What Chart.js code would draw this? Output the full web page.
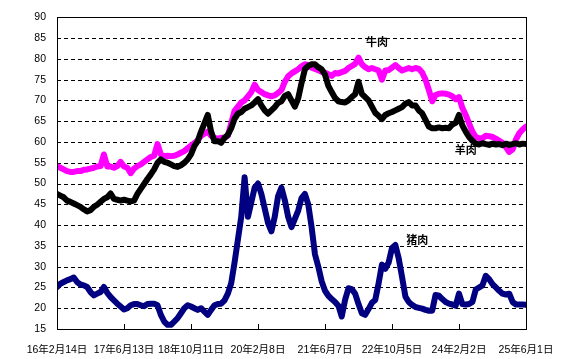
<!DOCTYPE html>
<html>
<head>
<meta charset="utf-8">
<script src="https://cdn.jsdelivr.net/npm/chart.js@4"></script>
<style>
  html, body { margin: 0; padding: 0; background: #fff; }
</style>
</head>
<body>
<canvas id="meat-chart" width="570" height="359"></canvas>
<script>
// ---------- Data ----------
// 한 눈금(485일)을 20구간으로 나눈 표본: 0 ~ 140
const xTickLabels = ['16年2月14日', '17年6月13日', '18年10月11日', '20年2月8日', '21年6月7日', '22年10月5日', '24年2月2日', '25年6月1日'];
const seriesNames = ['羊肉', '牛肉', '猪肉'];

const muttonPrices = [
    47.5, 47.1, 46.7, 45.9, 45.6, 45.2, 44.8, 44.4, 43.8, 43.3,
    43.6, 44.4, 44.9, 45.6, 46.3, 46.7, 47.6, 46.3, 46.1, 45.9,
    46.1, 45.9, 45.7, 45.9, 47.5, 48.7, 49.9, 51.1, 52.2, 53.4,
    55.0, 55.8, 55.2, 55.0, 54.6, 54.2, 54.0, 54.4, 55.0, 55.8,
    57.0, 59.0, 60.2, 62.5, 64.5, 66.5, 62.5, 60.2, 60.2, 59.8,
    61.0, 61.7, 63.3, 65.6, 66.8, 67.2, 68.0, 68.4, 68.8, 69.5,
    70.3, 68.8, 67.6, 66.8, 67.6, 68.4, 69.4, 69.8, 71.1, 71.5,
    70.0, 68.5, 70.5, 74.2, 77.5, 78.3, 78.7, 78.7, 78.0, 77.5,
    76.2, 73.5, 72.0, 70.6, 69.8, 69.6, 69.5, 70.0, 70.8, 71.5,
    74.5, 71.6, 70.8, 70.0, 68.5, 67.0, 66.3, 65.5, 66.5, 66.9,
    67.2, 67.6, 68.0, 68.4, 69.2, 69.6, 68.8, 68.8, 67.6, 66.9,
    65.3, 63.7, 63.3, 63.3, 63.5, 63.3, 63.4, 63.3, 64.2, 64.6,
    66.5, 64.0, 62.5, 61.2, 60.3, 59.6, 59.4, 59.7, 59.5, 59.3,
    59.6, 59.4, 59.5, 59.2, 59.6, 59.3, 59.5, 59.7, 59.4, 59.6,
    59.5
];

const beefPrices = [
    54.2, 53.8, 53.4, 53.0, 52.8, 52.8, 53.0, 53.0, 53.3, 53.4,
    53.6, 53.8, 54.1, 54.2, 57.0, 54.1, 54.1, 53.8, 54.2, 55.2,
    54.1, 53.8, 52.5, 53.6, 54.2, 54.6, 55.2, 55.8, 56.4, 56.7,
    59.5, 57.0, 56.6, 56.7, 56.6, 56.7, 57.0, 57.4, 57.8, 58.5,
    59.1, 59.7, 60.4, 61.5, 62.0, 62.5, 61.5, 61.0, 60.8, 61.0,
    61.0, 61.5, 64.5, 67.5, 68.5, 69.5, 70.0, 71.0, 72.0, 73.8,
    72.5, 72.0, 71.5, 71.2, 71.0, 71.2, 71.8, 72.5, 74.5, 75.8,
    76.5, 77.0, 77.5, 78.2, 78.7, 78.5, 77.9, 77.6, 77.3, 76.9,
    76.7, 76.3, 75.9, 76.6, 76.5, 76.8, 77.1, 77.8, 78.3, 78.8,
    80.3, 78.7, 78.0, 77.5, 77.8, 77.5, 77.2, 75.0, 77.2, 77.3,
    77.9, 78.5, 77.8, 77.2, 77.5, 77.8, 77.5, 77.8, 77.6, 76.7,
    75.0, 72.5, 69.8, 71.3, 71.6, 71.7, 71.6, 71.4, 71.0, 70.3,
    70.8, 68.2, 66.5, 64.5, 62.5, 61.2, 60.9, 60.9, 61.5, 61.4,
    61.2, 60.8, 60.3, 59.8, 58.8, 57.6, 58.2, 60.6, 62.1, 63.0,
    63.7
];

const porkPrices = [
    25.1, 25.9, 26.3, 26.7, 27.0, 27.4, 26.3, 25.7, 25.5, 25.1,
    23.9, 23.1, 23.5, 23.9, 25.1, 23.7, 22.7, 21.9, 21.1, 20.4,
    19.7, 20.0, 20.7, 21.0, 21.0, 20.7, 20.5, 21.0, 21.1, 21.1,
    20.7, 18.4, 16.8, 16.0, 16.0, 16.8, 17.6, 18.8, 20.0, 20.7,
    20.4, 20.0, 19.6, 20.0, 19.2, 18.4, 19.6, 20.7, 21.0, 21.1,
    21.9, 23.5, 26.0, 31.0, 36.5, 42.0, 51.5, 42.0, 45.5, 49.0,
    50.0, 47.5, 44.0, 40.5, 38.5, 42.0, 47.0, 49.0, 46.0, 42.0,
    39.5, 41.5, 43.5, 46.5, 47.5, 45.0, 39.5, 33.0, 30.0, 26.5,
    24.2, 23.0, 22.2, 21.5, 20.6, 18.0, 22.0, 24.8, 24.6, 23.5,
    21.0, 18.8, 18.4, 19.8, 21.3, 22.0, 26.0, 30.5, 29.5, 31.0,
    34.5, 35.2, 32.0, 27.5, 22.8, 21.5, 20.8, 20.3, 20.1, 19.9,
    19.6, 19.4, 19.4, 23.2, 23.0, 22.2, 21.5, 21.1, 20.9, 20.6,
    23.5, 21.0, 20.9, 21.0, 21.5, 24.5, 25.0, 25.5, 27.8, 27.0,
    25.8, 25.0, 24.2, 23.5, 23.3, 23.5, 21.5, 20.9, 20.9, 20.9,
    20.8
];

// 곡선 이름 표시 위치 (표본 번호, 값)
const nameAnchorX = [122, 95.5, 107.5];
const nameAnchorY = [58.2, 84.0, 36.4];

const TICK_STEP = 20;
const toPoints = arr => arr.map((v, i) => ({ x: i, y: v }));

// ---------- Plugins ----------
// 점선 가로 눈금선 (데이터 아래)
const dashedGrid = {
    id: 'dashedGrid',
    beforeDatasetsDraw(chart) {
        const { ctx, chartArea: a, scales } = chart;
        ctx.save();
        ctx.strokeStyle = '#000';
        ctx.lineWidth = 1;
        ctx.setLineDash([4, 3]);
        ctx.beginPath();
        scales.y.ticks.forEach(t => {
            const py = Math.round(scales.y.getPixelForValue(t.value)) + 0.5;
            ctx.moveTo(a.left, py);
            ctx.lineTo(a.right, py);
        });
        ctx.stroke();
        ctx.restore();
    }
};

const frameAndTicks = {
    id: 'frameAndTicks',
    afterDraw(chart) {
        const { ctx, chartArea: a, scales } = chart;
        ctx.save();
        ctx.strokeStyle = '#000';
        ctx.lineWidth = 1;
        ctx.strokeRect(Math.round(a.left) + 0.5, Math.round(a.top) + 0.5,
            Math.round(a.right - a.left), Math.round(a.bottom - a.top));
        // 안쪽으로 향한 x축 눈금
        ctx.beginPath();
        scales.x.ticks.forEach(t => {
            const px = Math.round(scales.x.getPixelForValue(t.value)) + 0.5;
            ctx.moveTo(px, a.bottom);
            ctx.lineTo(px, a.bottom - 5);
        });
        ctx.stroke();
        ctx.restore();
    }
};

const seriesNameLabels = {
    id: 'seriesNameLabels',
    afterDraw(chart) {
        const { ctx, scales } = chart;
        ctx.save();
        ctx.fillStyle = '#000';
        ctx.font = 'bold 11px "Noto Sans CJK SC", sans-serif';
        ctx.textAlign = 'center';
        ctx.textBaseline = 'middle';
        seriesNames.forEach((name, i) => {
            ctx.fillText(name, scales.x.getPixelForValue(nameAnchorX[i]), scales.y.getPixelForValue(nameAnchorY[i]));
        });
        ctx.restore();
    }
};

// ---------- Chart ----------
const tickFont = { family: '"Liberation Sans", "Noto Sans CJK SC", sans-serif', size: 10.5 };

new Chart(document.getElementById('meat-chart').getContext('2d'), {
    type: 'line',
    data: {
        datasets: [
            { label: seriesNames[0], data: toPoints(muttonPrices), borderColor: '#000000', backgroundColor: '#000000' },
            { label: seriesNames[1], data: toPoints(beefPrices), borderColor: '#FF00FF', backgroundColor: '#FF00FF' },
            { label: seriesNames[2], data: toPoints(porkPrices), borderColor: '#000080', backgroundColor: '#000080' },
        ],
    },
    options: {
        responsive: false,
        animation: false,
        layout: { padding: { left: 0, top: 12, right: 44, bottom: 0 } },
        elements: {
            point: { radius: 0 },
            line: { borderWidth: 6, tension: 0, borderJoinStyle: 'round', borderCapStyle: 'round' },
        },
        plugins: { legend: { display: false }, tooltip: { enabled: false } },
        scales: {
            x: {
                type: 'linear',
                min: 0,
                max: (xTickLabels.length - 1) * TICK_STEP,
                grid: { display: false, drawTicks: false },
                border: { color: '#000' },
                ticks: {
                    stepSize: TICK_STEP,
                    autoSkip: false,
                    maxRotation: 0,
                    padding: 15,
                    color: '#000',
                    font: tickFont,
                    callback: v => xTickLabels[Math.round(v / TICK_STEP)],
                },
                afterFit: s => { s.height = 30; },
            },
            y: {
                min: 15,
                max: 90,
                grid: { display: false, drawTicks: false },
                border: { color: '#000' },
                ticks: { stepSize: 5, padding: 11, color: '#000', font: tickFont },
                afterFit: s => { s.width = 57; },
            },
        },
    },
    plugins: [dashedGrid, frameAndTicks, seriesNameLabels],
});
</script>
</body>
</html>
